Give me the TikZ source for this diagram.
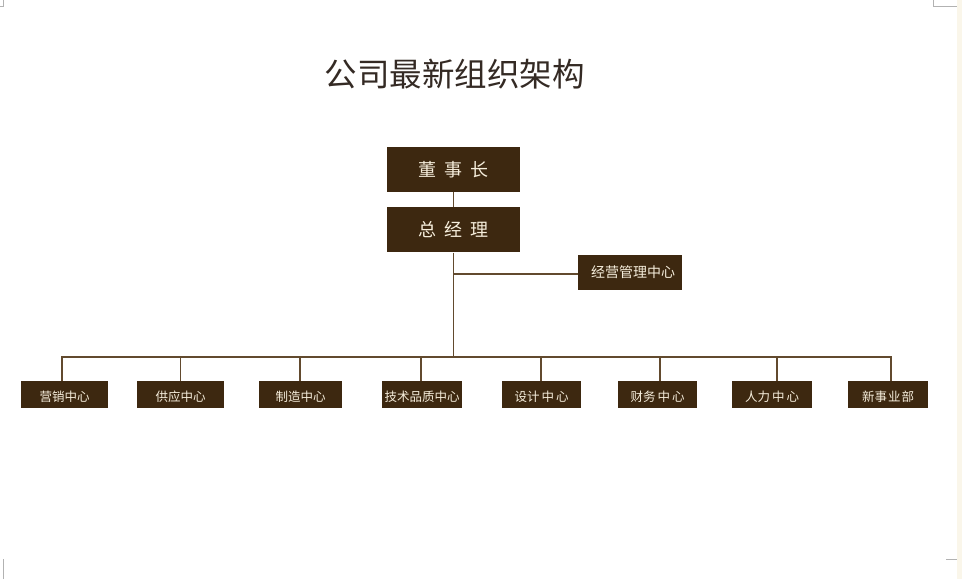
\documentclass[tikz,border=0pt]{standalone}
\usepackage{fontspec}
\setmainfont{Noto Sans CJK SC}
\usetikzlibrary{positioning}
\definecolor{Cafe}{RGB}{61,40,16}
\definecolor{Linea}{RGB}{98,74,46}
\definecolor{Titulo}{RGB}{52,42,36}
\definecolor{Crema}{RGB}{246,238,220}
\definecolor{Borde}{RGB}{250,246,234}

\begin{document}
\begin{tikzpicture}[
  x=1pt, y=-1pt,
  node distance=15pt,
  %% cajas principales
  tbox/.style={rectangle, fill=Cafe, text=Crema,
               minimum width=133pt, minimum height=45pt, inner sep=0pt,
               font=\fontsize{18}{18}\selectfont},
  mbox/.style={rectangle, fill=Cafe, text=Crema,
               minimum width=104pt, minimum height=35pt, inner sep=0pt,
               font=\fontsize{14}{14}\selectfont},
  sbox/.style={rectangle, fill=Cafe, text=Crema, anchor=north,
               minimum width=#1, minimum height=27pt, inner sep=0pt,
               text height=14.5pt, text depth=0pt,
               font=\fontsize{12.5}{12.5}\selectfont},
  lin/.style={draw=Linea, line width=1.8pt},
  marca/.style={draw=gray!60, line width=0.8pt}
]
\useasboundingbox[fill=white] (0,0) rectangle (962,579);
\fill[Borde] (957,0) rectangle (962,579);

%% -- Marcas de esquina ----------------------------------------------------
\draw[marca] (3,0) -- (3,6) -- (0,6);
\draw[marca] (933,0) -- (933,6) -- (957,6);
\draw[marca] (3,579) -- (3,559);
\draw[marca] (946,559) -- (957,559);

%% -- Titulo ---------------------------------------------------------------
\node[text=Titulo, font=\fontsize{32.5}{32.5}\selectfont] (titulo) at (454.5,74) {公司最新组织架构};

%% -- Direccion ------------------------------------------------------------
\node[tbox] (presi) at (453.5,169.5) {董\hspace{8.5pt}事\hspace{8.5pt}长};
\node[tbox, below=of presi] (gerente) {总\hspace{8.5pt}经\hspace{8.5pt}理};
\node[mbox] (gestion) at (630,272.5) {\hspace{6pt}经营管理中心};

%% -- Centros --------------------------------------------------------------
\node[sbox=87pt] (ventas)   at (64.5,381)  {营销中心};
\node[sbox=87pt] (compras)  at (180.5,381) {供应中心};
\node[sbox=83pt] (fabrica)  at (300.5,381) {制造中心};
\node[sbox=80pt] (calidad)  at (422,381)   {技术品质中心};
\node[sbox=79pt] (diseno)   at (541.5,381) {设计\hspace{2pt}中\hspace{2pt}心};
\node[sbox=79pt] (finanzas) at (657.5,381) {财务\hspace{2pt}中\hspace{2pt}心};
\node[sbox=80pt] (personal) at (772,381)   {人力\hspace{2pt}中\hspace{2pt}心};
\node[sbox=80pt] (negocios) at (888,381)   {新事\hspace{1pt}业\hspace{1pt}部};

%% -- Conexiones -----------------------------------------------------------
\coordinate (bus) at (gerente.south |- 0,357);
\draw[lin] (presi) -- (gerente);
\draw[lin] (gerente.south) -- (bus);
\draw[lin] (gerente.south |- gestion) ++(0,1.5) -- (gestion.west |- 0,274);
\draw[lin] (ventas.north -| 62,0) |- (bus);
\draw[lin] (negocios.north -| 891,0) |- (bus);
\draw[lin] (compras.north)  -- (compras.north |- bus);
\draw[lin] (fabrica.north -| 300,0)  -- (300,357);
\draw[lin] (calidad.north -| 421,0)  -- (421,357);
\draw[lin] (diseno.north -| 541,0)   -- (541,357);
\draw[lin] (finanzas.north -| 660,0) -- (660,357);
\draw[lin] (personal.north -| 777,0) -- (777,357);

\end{tikzpicture}
\end{document}
